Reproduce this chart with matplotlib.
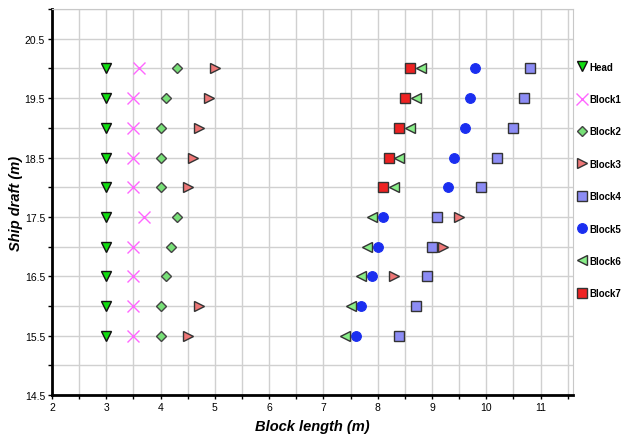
import matplotlib
matplotlib.use("Agg")
import matplotlib.pyplot as plt
from matplotlib.ticker import MultipleLocator

plt.rcParams['font.family'] = ['Liberation Sans', 'DejaVu Sans']

# ship draft levels (m)
draft = [20.0, 19.5, 19.0, 18.5, 18.0, 17.5, 17.0, 16.5, 16.0, 15.5]

head = [3.0, 3.0, 3.0, 3.0, 3.0, 3.0, 3.0, 3.0, 3.0, 3.0]
block1 = [3.6, 3.5, 3.5, 3.5, 3.5, 3.7, 3.5, 3.5, 3.5, 3.5]
block2 = [4.3, 4.1, 4.0, 4.0, 4.0, 4.3, 4.2, 4.1, 4.0, 4.0]
block3 = [5.0, 4.9, 4.7, 4.6, 4.5, 9.5, 9.2, 8.3, 4.7, 4.5]
block4 = [10.8, 10.7, 10.5, 10.2, 9.9, 9.1, 9.0, 8.9, 8.7, 8.4]
block5 = [9.8, 9.7, 9.6, 9.4, 9.3, 8.1, 8.0, 7.9, 7.7, 7.6]
block6 = [8.8, 8.7, 8.6, 8.4, 8.3, 7.9, 7.8, 7.7, 7.5, 7.4]
block7 = [8.6, 8.5, 8.4, 8.2, 8.1]
draft7 = draft[:5]

fig = plt.figure(figsize=(6.23, 4.39), dpi=100)
ax = fig.add_axes([0.0835, 0.098, 0.8365, 0.879])

ax.plot(head, draft, 'v', ms=7.5, color='#11dd11', mec='#111111', mew=1, label='Head', zorder=3)
ax.plot(block1, draft, 'x', ms=8, color='#ff66ff', mew=1, label='Block1', zorder=3)
ax.plot(block2, draft, 'D', ms=5.5, color='#77e077', mec='#444444', mew=1, label='Block2', zorder=3)
ax.plot(block3, draft, '>', ms=7.5, color='#ee7777', mec='#333333', mew=1, label='Block3', zorder=3)
ax.plot(block4, draft, 's', ms=6.5, color='#8c8cf5', mec='#333333', mew=1, label='Block4', zorder=3)
ax.plot(block5, draft, 'o', ms=7, color='#1a2ef0', mec='#1a2ef0', mew=0.8, label='Block5', zorder=3)
ax.plot(block6, draft, '<', ms=7.5, color='#88ee88', mec='#333333', mew=1, label='Block6', zorder=3)
ax.plot(block7, draft7, 's', ms=6.5, color='#ee2222', mec='#333333', mew=1, label='Block7', zorder=3)

ax.set_xlim(2, 11.6)
ax.set_ylim(14.5, 21.0)
ax.xaxis.set_major_locator(MultipleLocator(1))
ax.xaxis.set_minor_locator(MultipleLocator(0.5))
ax.set_yticks([14.5, 15.5, 16.5, 17.5, 18.5, 19.5, 20.5])
ax.yaxis.set_minor_locator(MultipleLocator(0.5))
ax.grid(True, which='both', color='#d0d0d0', lw=1)
ax.set_axisbelow(True)

for s in ['left', 'bottom']:
    ax.spines[s].set_linewidth(2)
    ax.spines[s].set_color('black')
for s in ['top', 'right']:
    ax.spines[s].set_color('#c8c8c8')
ax.tick_params(which='both', direction='out', length=3, width=1, labelsize=7.5, pad=2)

ax.set_xlabel('Block length (m)', fontsize=10.5, fontweight='bold', style='italic', labelpad=5)
ax.set_ylabel('Ship draft (m)', fontsize=10.5, fontweight='bold', style='italic', labelpad=1.5)

fig.legend(loc='upper left', bbox_to_anchor=(0.92, 0.866), frameon=False,
           prop={'size': 7, 'weight': 'bold'},
           labelspacing=2.3, handlelength=1.0, handletextpad=0.25, borderaxespad=0)

fig.savefig('out.png', dpi=100)
